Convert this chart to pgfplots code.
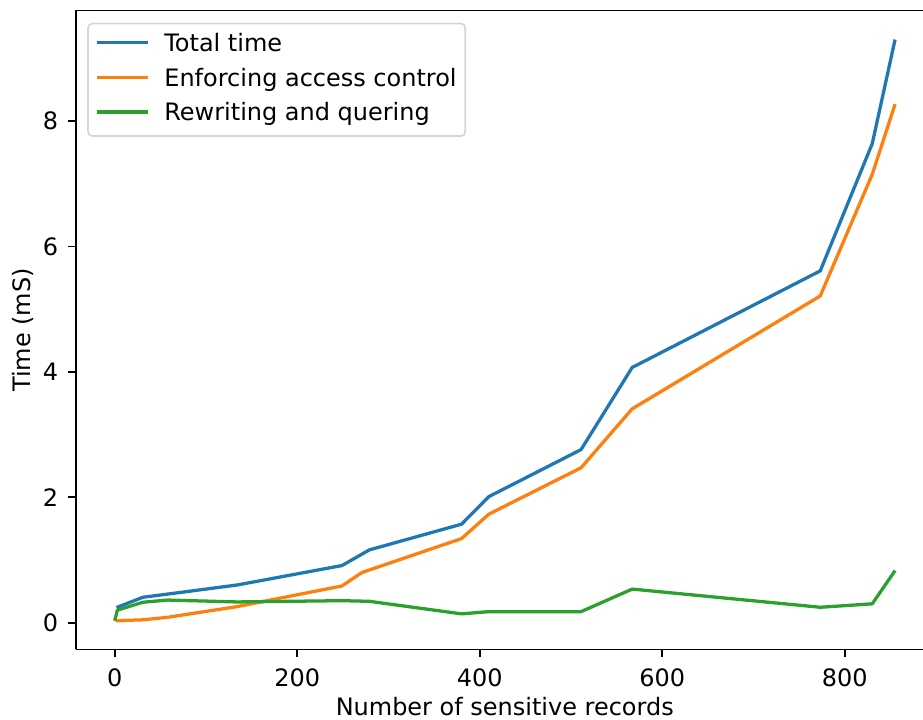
\documentclass[border=0pt]{standalone}
\usepackage{fontspec}
\setmainfont{DejaVu Sans}
\usepackage{pgfplots}
\pgfplotsset{compat=1.18}
\definecolor{tabblue}{HTML}{1F77B4}
\definecolor{taborange}{HTML}{FF7F0E}
\definecolor{tabgreen}{HTML}{2CA02C}
\definecolor{legframe}{HTML}{D6D6D6}

\begin{document}
\begin{tikzpicture}
\begin{axis}[
  scale only axis,
  width=388.7pt, height=293.1pt,
  xmin=-42.75, xmax=885.6,
  ymin=-0.427, ymax=9.764,
  axis x line=box, axis y line=left,
  axis line style={-, line width=0.8pt, black},
  tick pos=left,
  tick align=outside,
  major tick length=3.5pt,
  tick style={black, line width=0.8pt},
  xtick={0,200,400,600,800},
  ytick={0,2,4,6,8},
  /pgf/number format/assume math mode=true,
  tick label style={font=\fontsize{11}{13}\selectfont},
  xticklabel style={anchor=north, inner sep=0pt, yshift=-5pt},
  yticklabel style={anchor=east, inner sep=0pt, xshift=-4.3pt},
  xlabel={Number of sensitive records},
  ylabel={Time (mS)},
  every axis x label/.style={at={(axis description cs:0.5,0)}, anchor=base,
    inner sep=0pt, xshift=2.5pt, yshift=-30.5pt, font=\fontsize{11}{13}\selectfont},
  every axis y label/.style={at={(axis description cs:0,0.5)}, xshift=-20.6pt,
    rotate=90, anchor=base, inner sep=0pt, font=\fontsize{11}{13}\selectfont},
  no markers,
  legend style={
    at={(axis description cs:0,1)}, anchor=north west,
    xshift=5.3pt, yshift=-5.6pt,
    draw=legframe, line width=0.8pt, rounded corners=2pt, fill=white,
    inner xsep=4pt, inner ysep=4.3pt,
    row sep=5pt,
    nodes={inner sep=0pt, text height=8.4pt, text depth=2.6pt},
    font=\fontsize{11}{13}\selectfont,
  },
  legend cell align=left,
  legend image code/.code={
    \draw[#1, line width=1.5pt, line cap=rect] (0.75pt,1.2pt) -- (22.6pt,1.2pt);
    \path[draw=none] (0pt,1.2pt) -- (31pt,1.2pt);
  },
]

% Total time
\addplot[tabblue, line width=1.5pt, line join=round] coordinates {
  (2,0.24) (31,0.405) (58,0.455) (134,0.60) (249,0.91) (279,1.16)
  (380,1.57) (410,2.01) (511,2.76) (567,4.07) (773,5.61) (830,7.64) (855,9.30)
};
\addlegendentry{Total time}

% Enforcing access control
\addplot[taborange, line width=1.5pt, line join=round] coordinates {
  (1,0.03) (31,0.045) (58,0.085) (134,0.255) (249,0.585) (271,0.80)
  (380,1.34) (410,1.73) (511,2.47) (567,3.41) (773,5.21) (830,7.15) (855,8.27)
};
\addlegendentry{Enforcing access control}

% Rewriting and quering
\addplot[tabgreen, line width=1.5pt, line join=round] coordinates {
  (0,0.03) (3,0.20) (31,0.325) (58,0.36) (134,0.33) (249,0.35) (279,0.34)
  (380,0.14) (410,0.175) (511,0.175) (567,0.535) (773,0.245) (830,0.30) (855,0.83)
};
\addlegendentry{Rewriting and quering}

\coordinate (sw) at (rel axis cs:0,0);
\coordinate (ne) at (rel axis cs:1,1);
\end{axis}
\pgfresetboundingbox
\path ([shift={(-34.7pt,-32.3pt)}]sw) rectangle ([shift={(0pt,4.8pt)}]ne);
\end{tikzpicture}
\end{document}
